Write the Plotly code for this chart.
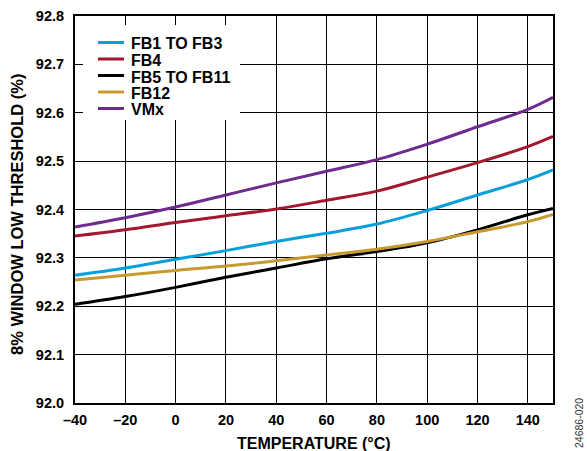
import plotly.graph_objects as go

# Temperature sweep (°C) and measured low-threshold levels (%)
temperature = [-40, -20, 0, 20, 40, 60, 80, 100, 120, 140, 150]
fb1_to_fb3 = [92.264, 92.279, 92.297, 92.315, 92.334, 92.351, 92.370, 92.398, 92.430, 92.462, 92.482]
fb4 = [92.345, 92.358, 92.373, 92.387, 92.401, 92.419, 92.438, 92.467, 92.497, 92.530, 92.551]
fb5_to_fb11 = [92.204, 92.220, 92.239, 92.260, 92.279, 92.298, 92.313, 92.331, 92.358, 92.389, 92.402]
fb12 = [92.254, 92.264, 92.274, 92.283, 92.294, 92.306, 92.318, 92.334, 92.354, 92.375, 92.390]
vmx = [92.364, 92.383, 92.405, 92.430, 92.455, 92.479, 92.503, 92.535, 92.571, 92.607, 92.632]

series_names = ["FB1 TO FB3", "FB4", "FB5 TO FB11", "FB12", "VMx"]
series_values = [fb1_to_fb3, fb4, fb5_to_fb11, fb12, vmx]
series_colors = ["#0A9FDB", "#A3182F", "#000000", "#C79A30", "#6E2A8D"]

x_ticks = [-40, -20, 0, 20, 40, 60, 80, 100, 120, 140]
x_tick_labels = ["–40", "–20", "0", "20", "40", "60", "80", "100", "120", "140"]
y_ticks = [92.0, 92.1, 92.2, 92.3, 92.4, 92.5, 92.6, 92.7, 92.8]
y_tick_labels = [f"{v:.1f}" for v in y_ticks]

x_title = "TEMPERATURE (°C)"
y_title = "8% WINDOW LOW THRESHOLD (%)"
figure_code = "24686-020"

FONT = "Liberation Sans, Arial, sans-serif"
W, H = 587, 451
ML, MR, MT, MB = 75, 34, 16, 48
PW, PH = W - ML - MR, H - MT - MB


def px_x(px):
    """Horizontal pixel position -> paper fraction."""
    return (px - ML) / PW


def px_y(py):
    """Vertical pixel position (from top) -> paper fraction."""
    return (H - MB - py) / PH


fig = go.Figure()
for name, values, color in zip(series_names, series_values, series_colors):
    fig.add_trace(go.Scatter(
        x=temperature, y=values, name=name, mode="lines",
        line=dict(color=color, width=3, shape="spline", smoothing=1.0),
        showlegend=False,
    ))

# Legend drawn by hand for tight row spacing, on a white panel over the grid
shapes = [dict(
    type="rect", xref="paper", yref="paper", layer="above",
    x0=px_x(83), x1=px_x(240), y0=px_y(120), y1=px_y(25),
    fillcolor="white", line=dict(width=0),
)]
annotations = []
row_top, row_step = 42.5, 16.5
for i, (name, color) in enumerate(zip(series_names, series_colors)):
    yc = row_top + i * row_step
    shapes.append(dict(
        type="line", xref="paper", yref="paper", layer="above",
        x0=px_x(98), x1=px_x(124), y0=px_y(yc), y1=px_y(yc),
        line=dict(color=color, width=3),
    ))
    annotations.append(dict(
        text=f"<b>{name}</b>", xref="paper", yref="paper",
        x=px_x(129), y=px_y(yc + 1.5), xanchor="left", yanchor="middle",
        showarrow=False, font=dict(family=FONT, size=16, color="black"),
    ))

# Axis titles
annotations.append(dict(
    text=f"<b>{x_title}</b>", xref="paper", yref="paper",
    x=px_x(313.5), y=px_y(443), xanchor="center", yanchor="middle",
    showarrow=False, font=dict(family=FONT, size=16, color="black"),
))
annotations.append(dict(
    text=f"<b>{y_title}</b>", xref="paper", yref="paper", textangle=-90,
    x=px_x(17), y=px_y(215), xanchor="center", yanchor="middle",
    showarrow=False, font=dict(family=FONT, size=16.5, color="black"),
))

# Figure reference code, rotated, in the lower-right corner
annotations.append(dict(
    text=figure_code, xref="paper", yref="paper", textangle=-90,
    x=px_x(579), y=px_y(423), xanchor="center", yanchor="middle",
    showarrow=False, font=dict(family=FONT, size=10.5, color="#333333"),
))

fig.update_layout(
    width=W, height=H,
    margin=dict(l=ML, r=MR, t=MT, b=MB),
    paper_bgcolor="white", plot_bgcolor="white",
    font=dict(family=FONT, size=14, color="black"),
    showlegend=False,
    shapes=shapes,
    annotations=annotations,
    xaxis=dict(
        range=[-40, 150], tickmode="array", tickvals=x_ticks, ticktext=x_tick_labels,
        showgrid=True, gridcolor="black", gridwidth=1.3,
        showline=True, linecolor="black", linewidth=2, mirror=True,
        ticks="", zeroline=False, ticklabelstandoff=3, automargin=False,
        tickfont=dict(family=FONT, size=14.5, weight="bold"),
    ),
    yaxis=dict(
        range=[92.0, 92.8], tickmode="array", tickvals=y_ticks, ticktext=y_tick_labels,
        showgrid=True, gridcolor="black", gridwidth=1.3,
        showline=True, linecolor="black", linewidth=2, mirror=True,
        ticks="", zeroline=False, ticklabelstandoff=6, automargin=False,
        tickfont=dict(family=FONT, size=14.5, weight="bold"),
    ),
)

fig.write_html("out.html")
